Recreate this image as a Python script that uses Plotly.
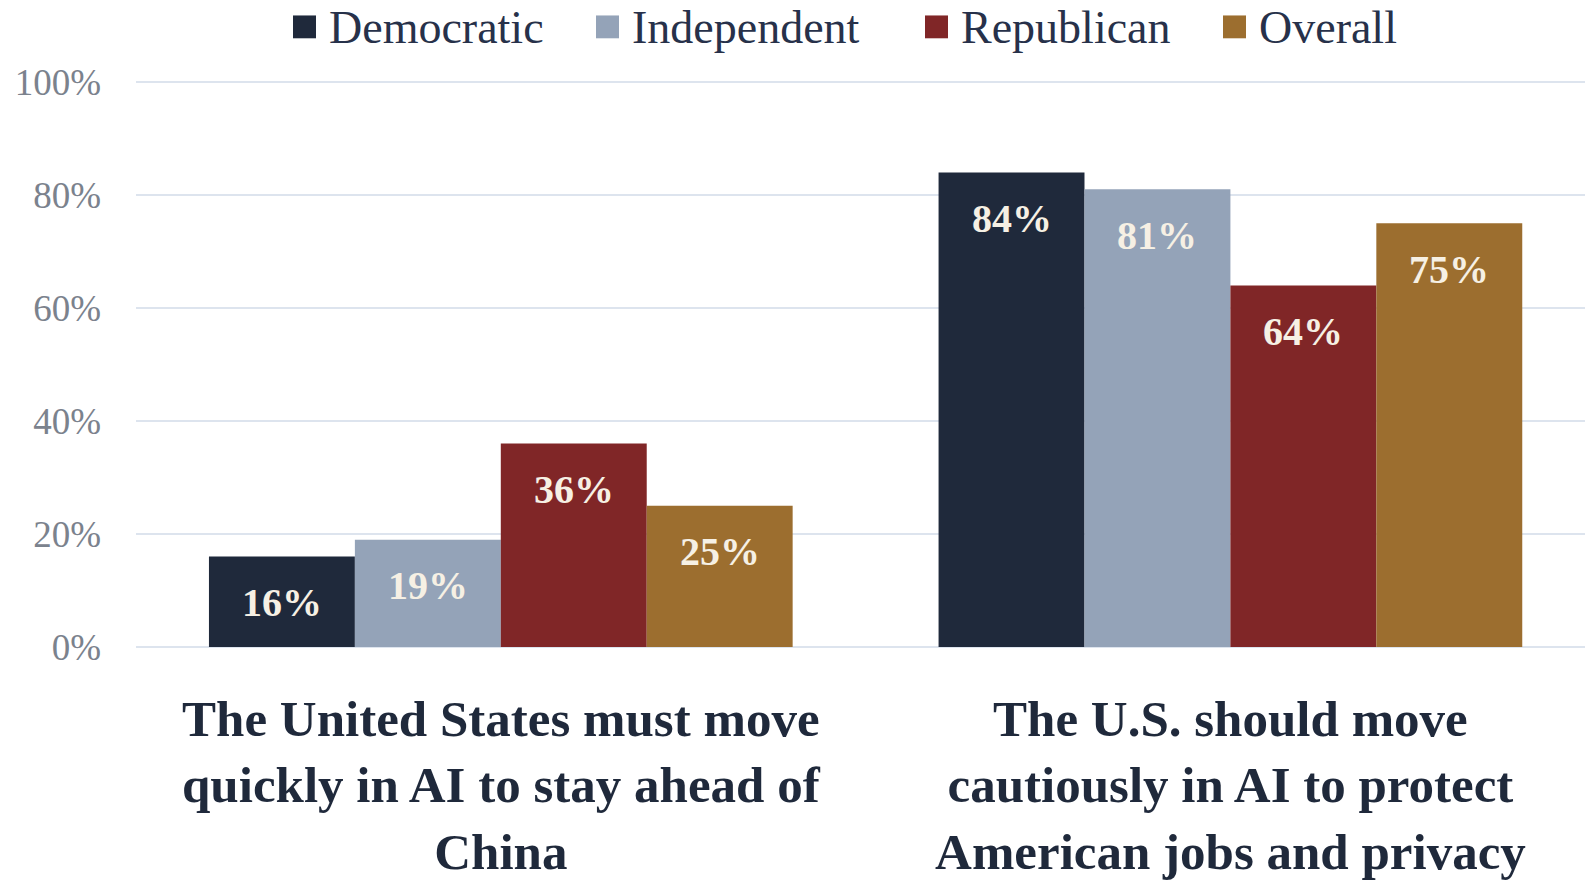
import plotly.graph_objects as go

# ---------------- data ----------------
categories = [
    "The United States must move<br>quickly in AI to stay ahead of<br>China",
    "The U.S. should move<br>cautiously in AI to protect<br>American jobs and privacy",
]
series_names = ["Democratic", "Independent", "Republican", "Overall"]
democratic = [16, 84]
independent = [19, 81]
republican = [36, 64]
overall = [25, 75]
y_tick_vals = [0, 20, 40, 60, 80, 100]
y_tick_text = ["0%", "20%", "40%", "60%", "80%", "100%"]

# ---------------- style ----------------
colors = ["#1f293b", "#94a3b8", "#802627", "#9c6e2f"]
label_color = "#f6f0e4"
text_dark = "#1f293b"
grid_color = "#dde4ee"
serif = "Liberation Serif"

W, H = 1585, 880
ML, MR, MT, MB = 136, 0, 80, 229
BARGAP = 0.2
Y_MAX = 100.35

values = [democratic, independent, republican, overall]

fig = go.Figure()
for name, vals, col in zip(series_names, values, colors):
    fig.add_trace(go.Bar(
        name=name, x=categories, y=vals, marker=dict(color=col, line=dict(width=0)),
        showlegend=False, hoverinfo="x+y+name",
    ))

# value labels inside bars (positioned via the axes)
n = len(series_names)
bw = (1 - BARGAP) / n
annotations = []
for i, vals in enumerate(values):
    off = (i - (n - 1) / 2) * bw
    for j, v in enumerate(vals):
        annotations.append(dict(
            x=j + off, y=v, xref="x", yref="y", text=f"<b>{v}%</b>", showarrow=False,
            yanchor="middle", xanchor="center", yshift=-46,
            font=dict(family=serif, size=40, color=label_color),
        ))

# custom legend with larger squares
plot_w = W - ML - MR
plot_h = H - MT - MB
def px_x(p):
    return (p - ML) / plot_w
def px_y(p):
    return (H - MB - p) / plot_h

legend_marker_x = [293, 596, 925, 1223]
shapes = []
for name, col, mx in zip(series_names, colors, legend_marker_x):
    shapes.append(dict(type="rect", xref="paper", yref="paper",
                       x0=px_x(mx), x1=px_x(mx + 23), y0=px_y(38), y1=px_y(15),
                       fillcolor=col, line=dict(width=0)))
    annotations.append(dict(x=px_x(mx + 34), y=px_y(27), xref="paper", yref="paper",
                            text=name, showarrow=False, xanchor="left", yanchor="middle",
                            font=dict(family=serif, size=46, color="#27314a")))

fig.update_layout(
    width=W, height=H,
    margin=dict(l=ML, r=MR, t=MT, b=MB, pad=0),
    paper_bgcolor="white", plot_bgcolor="white",
    barmode="group", bargap=BARGAP, bargroupgap=0,
    showlegend=False,
    annotations=annotations, shapes=shapes,
    font=dict(family=serif),
)
fig.update_xaxes(
    range=[-0.5, 1.486], showgrid=False, showline=False, zeroline=False,
    tickfont=dict(family=serif, size=51, color=text_dark, weight="bold"), ticks="",
    ticklabelstandoff=37,
)
fig.update_yaxes(
    range=[0, Y_MAX], tickvals=y_tick_vals, ticktext=y_tick_text,
    showgrid=True, gridcolor=grid_color, gridwidth=2,
    zeroline=True, zerolinecolor=grid_color, zerolinewidth=2,
    showline=False, ticks="",
    tickfont=dict(family=serif, size=37, color="#7b828d"),
    ticklabelstandoff=34,
)

fig.write_html(
    "out.html",
    config={"displayModeBar": False},
    post_script="document.body.style.margin='0';document.body.style.overflow='hidden';",
)
